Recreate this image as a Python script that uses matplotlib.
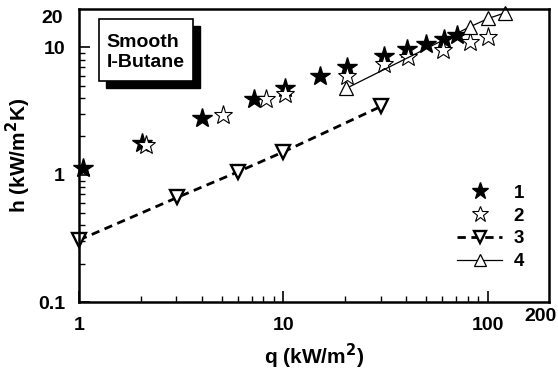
import matplotlib.pyplot as plt
import matplotlib.patches as patches
from matplotlib.ticker import FixedLocator, NullFormatter

plt.rcParams['font.family'] = ['Liberation Sans', 'DejaVu Sans']
plt.rcParams['font.weight'] = 'bold'

# series 1: filled stars
q1 = [1.05, 2.04, 4.0, 7.2, 10.2, 15.2, 20.5, 31, 40.4, 50.2, 61, 71]
h1 = [1.12, 1.78, 2.77, 3.90, 4.84, 5.94, 7.03, 8.53, 9.8, 10.7, 11.7, 12.5]
# series 2: open stars
q2 = [2.12, 5.06, 8.2, 10.2, 20.5, 31, 40.6, 60.6, 81.9, 101]
h2 = [1.71, 2.94, 3.90, 4.29, 5.94, 7.47, 8.43, 9.51, 11.0, 12.1]
# series 3: down triangles, dashed
q3 = [1.0, 3.03, 5.97, 10.0, 30.2]
h3 = [0.307, 0.663, 1.05, 1.51, 3.45]
# series 4: up triangles, solid
q4 = [20.3, 81.9, 101, 122]
h4 = [4.76, 14.5, 16.9, 18.7]

labels = ['1', '2', '3', '4']
xticks = [1, 10, 100]
yticks = [0.1, 1, 10]

fig = plt.figure(figsize=(5.58, 3.78), dpi=100)
ax = fig.add_axes([0.1416, 0.201, 0.8424, 0.775])

ax.plot(q1, h1, ls='none', marker='*', ms=14.5, mfc='black', mec='black', label=labels[0],
        clip_on=False)
ax.plot(q2, h2, ls='none', marker='*', ms=14, mfc='white', mec='black', mew=0.8,
        label=labels[1], clip_on=False)
ax.plot(q3, h3, ls=(0, (3, 2)), lw=2, color='black', marker='v', ms=9.5, mfc='white',
        mec='black', mew=1.7, label=labels[2], clip_on=False)
ax.plot(q4, h4, ls='-', lw=0.9, color='black', marker='^', ms=10, mfc='white',
        mec='black', mew=0.9, label=labels[3], clip_on=False)

ax.set_xscale('log')
ax.set_yscale('log')
ax.set_xlim(1, 200)
ax.set_ylim(0.1, 20)

ax.xaxis.set_major_locator(FixedLocator(xticks))
ax.set_xticklabels([str(t) for t in xticks])
ax.xaxis.set_minor_locator(FixedLocator([2, 3, 4, 5, 6, 7, 8, 9, 20, 30, 40, 50, 60, 70, 80, 90]))
ax.yaxis.set_major_locator(FixedLocator(yticks))
ax.set_yticklabels(['0.1', '1', '10'])
ax.yaxis.set_minor_locator(FixedLocator([0.2, 0.3, 0.4, 0.5, 0.6, 0.7, 0.8, 0.9,
                                         2, 3, 4, 5, 6, 7, 8, 9]))
ax.xaxis.set_minor_formatter(NullFormatter())
ax.yaxis.set_minor_formatter(NullFormatter())

ax.tick_params(which='major', direction='in', length=8, width=1.2, labelsize=14)
ax.tick_params(axis='x', which='major', pad=11)
ax.tick_params(axis='y', which='major', pad=10)
ax.tick_params(which='minor', direction='in', length=4.5, width=1.0)
for s in ax.spines.values():
    s.set_linewidth(1.8)

# end labels of the axes, placed as in the original
ax.text(0.981, -0.05, '200', transform=ax.transAxes, ha='center', va='center', fontsize=14,
        fontweight='bold')
ax.text(-0.034, 0.967, '20', transform=ax.transAxes, ha='right', va='center', fontsize=14,
        fontweight='bold')

ax.set_xlabel('q (kW/m$^\\mathbf{2}$)', fontsize=15, fontweight='bold')
ax.set_ylabel('h (kW/m$^\\mathbf{2}$K)', fontsize=15, fontweight='bold')
ax.xaxis.set_label_coords(0.5, -0.135)
ax.yaxis.set_label_coords(-0.098, 0.5)

# text box with shadow
ax.add_patch(patches.Rectangle((0.0575, 0.730), 0.1994, 0.211, transform=ax.transAxes,
                               facecolor='black', edgecolor='black', zorder=5))
ax.add_patch(patches.Rectangle((0.0426, 0.754), 0.1994, 0.211, transform=ax.transAxes,
                               facecolor='white', edgecolor='black', lw=1.2, zorder=6))
ax.text(0.059, 0.852, 'Smooth\nI-Butane', transform=ax.transAxes, ha='left', va='center',
        fontsize=14, fontweight='bold', linespacing=1.25, zorder=7)

ax.legend(loc='upper left', bbox_to_anchor=(0.805, 0.40), frameon=False, fontsize=13.5,
          handlelength=2.4, handletextpad=0.6, labelspacing=0.3, borderaxespad=0,
          borderpad=0, markerscale=0.85)

fig.savefig('out.png', dpi=100)
